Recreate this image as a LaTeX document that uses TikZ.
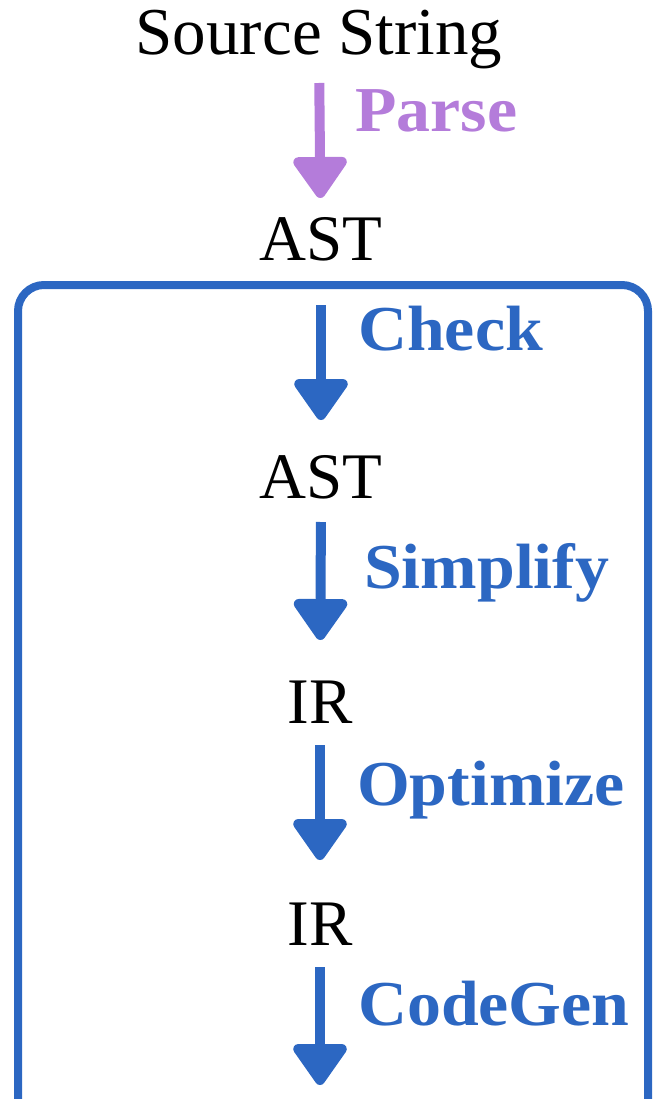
\documentclass[tikz,border=0pt]{standalone}
\usepackage{fontspec}
\setmainfont{Liberation Serif}
\newfontfamily\passfont{Liberation Serif}[FakeStretch=1.06]
\usetikzlibrary{arrows.meta}

\definecolor{parsepurple}{HTML}{B47CDA}
\definecolor{passblue}{HTML}{2C67C2}

\tikzset{
  stage/.style={anchor=base, inner sep=0pt, font=\fontsize{65}{78}\selectfont},
  passlabel/.style={anchor=base west, inner sep=0pt, font=\passfont\fontsize{64}{76}\selectfont\bfseries},
  passarrow/.style={line width=10pt,
    -{Triangle[width=60pt, length=45pt, round]}},
  frame/.style={line width=8pt, rounded corners=26pt}
}

\begin{document}
\begin{tikzpicture}[x=1pt, y=-1pt]
  \useasboundingbox (0,0) rectangle (654,1099);
  \clip (0,0) rectangle (654,1099);

  % representations flowing through the pipeline
  \node[stage, font=\fontsize{67}{80}\selectfont] (src) at (319,55) {Source String};
  \node[stage] (ast1) at (321,260) {AST};
  \node[stage] (ast2) at (321,498) {AST};
  \node[stage] (ir1)  at (320,723) {IR};
  \node[stage] (ir2)  at (320,945) {IR};
  \coordinate (out) at (320,1085);

  % compiler passes
  \draw[passarrow, parsepurple, shorten <=28pt, shorten >=62pt] (src.base) -- (ast1.base);
  \draw[passarrow, passblue, shorten <=45pt, shorten >=78pt] (ast1.base) -- (ast2.base);
  \draw[passarrow, passblue, shorten <=24pt, shorten >=83pt] (ast2.base) -- (ir1.base);
  \draw[passarrow, passblue, shorten <=22pt, shorten >=85pt] (ir1.base) -- (ir2.base);
  \draw[passarrow, passblue, shorten <=22pt] (ir2.base) -- (out);

  \node[passlabel, text=parsepurple] (lparse) at (355,132)  {Parse};
  \node[passlabel, text=passblue]    (lcheck) at (358,350)  {Check};
  \node[passlabel, text=passblue]    (lsimp)  at (364,588)  {Simplify};
  \node[passlabel, text=passblue]    (lopt)   at (357,805)  {Optimize};
  \node[passlabel, text=passblue]    (lgen)   at (358,1025) {CodeGen};

  % backend boundary, open at the bottom
  \draw[frame, passblue] (18,1130) |- (648,285) -- (648,1130);
\end{tikzpicture}
\end{document}
